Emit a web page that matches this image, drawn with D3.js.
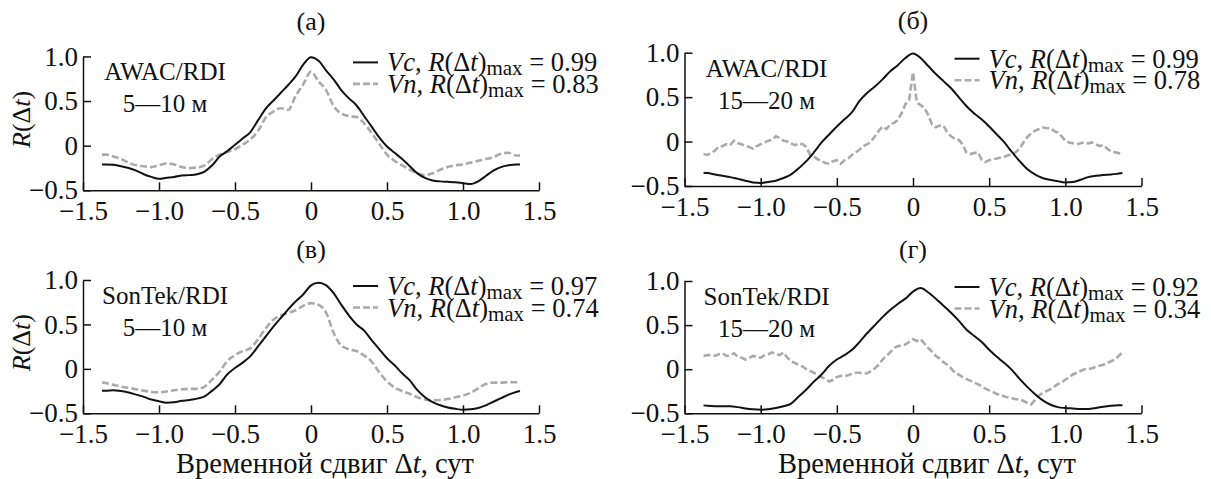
<!DOCTYPE html>
<html>
<head>
<meta charset="utf-8">
<script src="https://cdn.jsdelivr.net/npm/d3@7"></script>
<style>
  html, body { margin: 0; padding: 0; background: #fff; }
  svg { display: block; }
  text { font-family: "Liberation Serif", "Times New Roman", serif; fill: #111; }
</style>
</head>
<body>
<svg id="chart" width="1211" height="479"></svg>
<script>
// Lag grid (days) for the smooth correlation curves
const lagSmooth = [-1.375,
  -1.35,-1.3,-1.25,-1.2,-1.15,-1.1,-1.05,-1,-0.95,-0.9,
  -0.85,-0.8,-0.75,-0.7,-0.65,-0.6,-0.55,-0.5,-0.45,-0.4,
  -0.35,-0.3,-0.25,-0.2,-0.15,-0.1,-0.05,0,0.05,0.1,
  0.15,0.2,0.25,0.3,0.35,0.4,0.45,0.5,0.55,0.6,
  0.65,0.7,0.75,0.8,0.85,0.9,0.95,1,1.05,1.1,
  1.15,1.2,1.25,1.3,1.35,
  1.375];

// Finer lag grid for the noisy Vn curves of the 15–20 m layer
const lagFine = [
  -1.375,-1.35,-1.325,-1.3,-1.275,-1.25,-1.225,-1.2,-1.175,-1.15,
  -1.125,-1.1,-1.075,-1.05,-1.025,-1,-0.975,-0.95,-0.925,-0.9,
  -0.875,-0.85,-0.825,-0.8,-0.775,-0.75,-0.725,-0.7,-0.675,-0.65,
  -0.625,-0.6,-0.575,-0.55,-0.525,-0.5,-0.475,-0.45,-0.425,-0.4,
  -0.375,-0.35,-0.325,-0.3,-0.275,-0.25,-0.225,-0.2,-0.175,-0.15,
  -0.125,-0.1,-0.075,-0.05,-0.025,0,0.025,0.05,0.075,0.1,
  0.125,0.15,0.175,0.2,0.225,0.25,0.275,0.3,0.325,0.35,
  0.375,0.4,0.425,0.45,0.475,0.5,0.525,0.55,0.575,0.6,
  0.625,0.65,0.675,0.7,0.725,0.75,0.775,0.8,0.825,0.85,
  0.875,0.9,0.925,0.95,0.975,1,1.025,1.05,1.075,1.1,
  1.125,1.15,1.175,1.2,1.225,1.25,1.275,1.3,1.325,1.35,
  1.375];

// (а) AWAC/RDI, 5–10 m
const vcA = [-0.21,
  -0.21,-0.215,-0.23,-0.25,-0.28,-0.32,-0.35,-0.37,-0.36,-0.35,
  -0.335,-0.33,-0.32,-0.29,-0.22,-0.12,-0.06,0.01,0.08,0.15,
  0.28,0.41,0.50,0.59,0.68,0.78,0.91,0.99,0.95,0.84,
  0.74,0.62,0.53,0.45,0.33,0.21,0.09,-0.01,-0.08,-0.15,
  -0.23,-0.31,-0.36,-0.39,-0.40,-0.405,-0.41,-0.42,-0.43,-0.40,
  -0.34,-0.28,-0.24,-0.22,-0.21,
  -0.21];
const vnA = [-0.10,
  -0.10,-0.12,-0.15,-0.19,-0.22,-0.23,-0.24,-0.22,-0.20,-0.21,
  -0.24,-0.25,-0.245,-0.22,-0.15,-0.10,-0.07,-0.04,0.01,0.07,
  0.16,0.31,0.38,0.42,0.40,0.56,0.69,0.83,0.72,0.62,
  0.44,0.36,0.33,0.32,0.25,0.14,0.02,-0.10,-0.17,-0.22,
  -0.27,-0.31,-0.33,-0.31,-0.27,-0.24,-0.22,-0.21,-0.19,-0.17,
  -0.15,-0.13,-0.09,-0.08,-0.11,
  -0.11];

// (б) AWAC/RDI, 15–20 m
const vcB = [-0.35,
  -0.355,-0.37,-0.385,-0.40,-0.42,-0.44,-0.46,-0.465,-0.455,-0.44,
  -0.41,-0.37,-0.30,-0.22,-0.12,-0.01,0.08,0.17,0.25,0.33,
  0.46,0.55,0.62,0.70,0.79,0.86,0.94,0.99,0.94,0.85,
  0.76,0.68,0.60,0.50,0.40,0.32,0.25,0.17,0.08,-0.01,
  -0.12,-0.22,-0.31,-0.37,-0.41,-0.43,-0.445,-0.46,-0.455,-0.43,
  -0.40,-0.385,-0.375,-0.37,-0.36,
  -0.355];
const vnB = [
  -0.14,-0.15,-0.13,-0.10,-0.06,-0.05,-0.03,-0.04,0.01,-0.02,
  -0.03,-0.05,-0.06,-0.08,-0.05,-0.03,-0.01,0.01,0.02,0.06,
  0.04,0.01,0.00,-0.02,-0.04,-0.02,-0.03,-0.06,-0.15,-0.17,
  -0.20,-0.22,-0.24,-0.25,-0.22,-0.21,-0.25,-0.21,-0.19,-0.15,
  -0.12,-0.09,-0.05,-0.03,0.00,0.06,0.12,0.17,0.14,0.19,
  0.21,0.24,0.32,0.42,0.47,0.78,0.44,0.41,0.38,0.30,
  0.19,0.16,0.18,0.18,0.10,0.06,0.03,0.02,-0.03,-0.12,
  -0.14,-0.13,-0.12,-0.20,-0.23,-0.21,-0.20,-0.19,-0.18,-0.17,
  -0.155,-0.14,-0.12,-0.08,-0.01,0.05,0.09,0.12,0.14,0.16,
  0.15,0.15,0.12,0.10,0.06,0.01,-0.01,-0.02,-0.03,-0.02,
  -0.01,-0.02,-0.01,-0.03,-0.05,-0.04,-0.08,-0.11,-0.12,-0.13,
  -0.14];

// (в) SonTek/RDI, 5–10 m
const vcC = [-0.245,
  -0.245,-0.24,-0.25,-0.265,-0.29,-0.315,-0.345,-0.365,-0.38,-0.375,
  -0.36,-0.35,-0.335,-0.31,-0.245,-0.17,-0.06,0.01,0.07,0.14,
  0.25,0.36,0.47,0.57,0.67,0.76,0.84,0.94,0.97,0.94,
  0.85,0.72,0.60,0.50,0.43,0.32,0.22,0.12,0.04,-0.05,
  -0.13,-0.24,-0.32,-0.375,-0.41,-0.435,-0.45,-0.46,-0.455,-0.44,
  -0.41,-0.37,-0.33,-0.29,-0.26,
  -0.25];
const vnC = [-0.15,
  -0.16,-0.18,-0.20,-0.215,-0.23,-0.245,-0.26,-0.265,-0.255,-0.24,
  -0.23,-0.225,-0.225,-0.20,-0.12,-0.03,0.09,0.155,0.20,0.23,
  0.33,0.45,0.55,0.60,0.63,0.66,0.71,0.74,0.72,0.63,
  0.40,0.26,0.22,0.20,0.15,0.08,-0.04,-0.14,-0.21,-0.25,
  -0.28,-0.32,-0.345,-0.355,-0.35,-0.34,-0.32,-0.30,-0.27,-0.22,
  -0.17,-0.155,-0.155,-0.15,-0.15,
  -0.15];

// (г) SonTek/RDI, 15–20 m
const vcD = [-0.41,
  -0.415,-0.42,-0.42,-0.42,-0.43,-0.445,-0.455,-0.46,-0.455,-0.44,
  -0.42,-0.39,-0.31,-0.23,-0.14,-0.06,0.04,0.11,0.16,0.22,
  0.31,0.41,0.50,0.59,0.67,0.74,0.80,0.88,0.92,0.87,
  0.80,0.72,0.64,0.55,0.45,0.38,0.31,0.22,0.14,0.07,
  -0.01,-0.11,-0.20,-0.28,-0.35,-0.40,-0.43,-0.44,-0.445,-0.45,
  -0.45,-0.44,-0.425,-0.415,-0.41,
  -0.41];
const vnD = [
  0.15,0.16,0.16,0.15,0.17,0.18,0.15,0.16,0.18,0.14,
  0.13,0.11,0.13,0.15,0.14,0.13,0.16,0.17,0.19,0.17,
  0.16,0.19,0.13,0.09,0.07,0.05,0.03,0.00,-0.02,-0.04,
  -0.07,-0.09,-0.11,-0.14,-0.12,-0.09,-0.075,-0.08,-0.07,-0.05,
  -0.04,-0.04,-0.05,-0.045,-0.02,0.01,0.05,0.11,0.15,0.19,
  0.24,0.26,0.27,0.28,0.31,0.34,0.32,0.34,0.29,0.24,
  0.20,0.15,0.12,0.08,0.05,0.01,-0.04,-0.06,-0.09,-0.11,
  -0.13,-0.15,-0.17,-0.19,-0.22,-0.24,-0.26,-0.28,-0.29,-0.31,
  -0.32,-0.33,-0.34,-0.34,-0.36,-0.38,-0.40,-0.35,-0.30,-0.27,
  -0.25,-0.23,-0.20,-0.17,-0.15,-0.12,-0.09,-0.06,-0.04,-0.02,
  0.00,0.00,0.01,0.03,0.04,0.05,0.07,0.09,0.11,0.15,
  0.19];

const panelTitles = ["(а)", "(б)", "(в)", "(г)"];
const deviceNames = ["AWAC/RDI", "AWAC/RDI", "SonTek/RDI", "SonTek/RDI"];
const depthNames = ["5—10 м", "15—20 м", "5—10 м", "15—20 м"];
const xTicks = [-1.5, -1, -0.5, 0, 0.5, 1, 1.5];
const yTicks = [-0.5, 0, 0.5, 1];

// Panel frames (pixel layout) paired with their series
const panels = [
  { vc: vcA, vn: vnA, vnLag: lagSmooth, x0: 83,    x1: 539,    yTop: 56.4, yBot: 190.3, titleY: 30,  yLabel: true,  xLabel: false },
  { vc: vcB, vn: vnB, vnLag: lagFine,   x0: 684.5, x1: 1141.5, yTop: 52.7, yBot: 186,   titleY: 29,  yLabel: false, xLabel: false },
  { vc: vcC, vn: vnC, vnLag: lagSmooth, x0: 83,    x1: 539,    yTop: 280,  yBot: 413.3, titleY: 258, yLabel: true,  xLabel: true },
  { vc: vcD, vn: vnD, vnLag: lagFine,   x0: 684.5, x1: 1141.5, yTop: 281,  yBot: 413.3, titleY: 258, yLabel: false, xLabel: true }
];

const svg = d3.select("#chart");
const INK = "#111";
const GREY = "#aaaaaa";
const fmt = v => (v === 0 ? "0" : d3.format(".1f")(v));

panels.forEach((p, i) => {
  const x = d3.scaleLinear().domain([-1.5, 1.5]).range([p.x0, p.x1]);
  const y = d3.scaleLinear().domain([-0.5, 1]).range([p.yBot, p.yTop]);
  const g = svg.append("g");

  // axes with inward ticks
  const ax = g.append("g").attr("transform", `translate(0,${p.yBot})`)
    .call(d3.axisBottom(x).tickValues(xTicks).tickFormat(fmt).tickSize(-8).tickSizeOuter(0).tickPadding(11));
  const ay = g.append("g").attr("transform", `translate(${p.x0},0)`)
    .call(d3.axisLeft(y).tickValues(yTicks).tickFormat(fmt).tickSize(-8).tickSizeOuter(0).tickPadding(5));
  [ax, ay].forEach(a => {
    a.selectAll("path, line").attr("stroke", INK).attr("stroke-width", 1.5);
    a.selectAll("text").attr("font-size", 27).attr("fill", INK);
  });

  // correlation curves
  const smooth = d3.line().x((d, k) => x(lagSmooth[k])).y(d => y(d)).curve(d3.curveMonotoneX);
  const vnLine = d3.line().x((d, k) => x(p.vnLag[k])).y(d => y(d))
    .curve(p.vnLag === lagSmooth ? d3.curveMonotoneX : d3.curveLinear);

  g.append("path").datum(p.vn).attr("d", vnLine)
    .attr("fill", "none").attr("stroke", GREY).attr("stroke-width", 2.6)
    .attr("stroke-dasharray", "7,3");
  g.append("path").datum(p.vc).attr("d", smooth)
    .attr("fill", "none").attr("stroke", INK).attr("stroke-width", 2);

  // panel title
  g.append("text").attr("x", x(0)).attr("y", p.titleY)
    .attr("text-anchor", "middle").attr("font-size", 26).text(panelTitles[i]);

  // instrument pair and depth layer
  g.append("text").attr("x", p.x0 + 82).attr("y", p.yTop + 24)
    .attr("text-anchor", "middle").attr("font-size", 25).text(deviceNames[i]);
  g.append("text").attr("x", p.x0 + 82).attr("y", p.yTop + 56)
    .attr("text-anchor", "middle").attr("font-size", 25).text(depthNames[i]);

  // legend
  const legend = [
    { name: "Vc", values: p.vc, dash: null, color: INK, w: 2 },
    { name: "Vn", values: p.vn, dash: "7,3", color: GREY, w: 2.6 }
  ];
  legend.forEach((L, j) => {
    const ly = p.yTop + 6 + j * 21.5;
    g.append("line").attr("x1", p.x0 + 270).attr("x2", p.x0 + 295)
      .attr("y1", ly).attr("y2", ly)
      .attr("stroke", L.color).attr("stroke-width", L.w)
      .attr("stroke-dasharray", L.dash);
    const t = g.append("text").attr("x", p.x0 + 304).attr("y", ly + 9).attr("font-size", 26.5);
    t.append("tspan").attr("font-style", "italic").text(L.name);
    t.append("tspan").text(", ");
    t.append("tspan").attr("font-style", "italic").text("R");
    t.append("tspan").text("(Δ");
    t.append("tspan").attr("font-style", "italic").text("t");
    t.append("tspan").text(")");
    t.append("tspan").attr("font-size", 21).attr("dy", 4).text("max");
    t.append("tspan").attr("dy", -4).text(" = " + d3.max(L.values).toFixed(2));
  });

  // y-axis title
  if (p.yLabel) {
    const yt = g.append("text")
      .attr("transform", `translate(30,${(p.yTop + p.yBot) / 2 - 4}) rotate(-90)`)
      .attr("text-anchor", "middle").attr("font-size", 26);
    yt.append("tspan").attr("font-style", "italic").text("R");
    yt.append("tspan").text("(Δ");
    yt.append("tspan").attr("font-style", "italic").text("t");
    yt.append("tspan").text(")");
  }

  // x-axis title
  if (p.xLabel) {
    const xt = g.append("text").attr("x", x(0) + 14).attr("y", 473)
      .attr("text-anchor", "middle").attr("font-size", 28.5);
    xt.append("tspan").text("Временной сдвиг Δ");
    xt.append("tspan").attr("font-style", "italic").text("t");
    xt.append("tspan").text(", сут");
  }
});
</script>
</body>
</html>
